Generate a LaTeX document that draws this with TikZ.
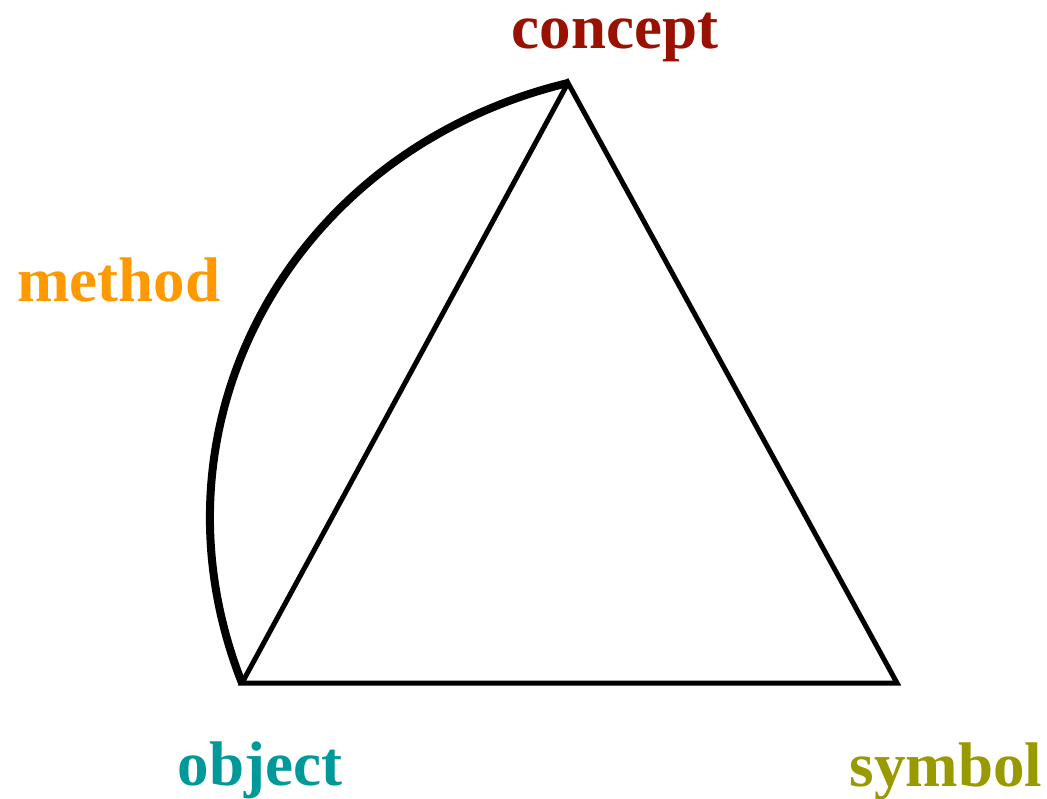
\documentclass[tikz,border=0pt]{standalone}
\usepackage{fontspec}
\setmainfont{Liberation Serif}
\usepackage{xcolor}
\usepackage{tikz}
\definecolor{conceptred}{RGB}{153,17,0}
\definecolor{methodorange}{RGB}{255,153,0}
\definecolor{objectteal}{RGB}{0,153,153}
\definecolor{symbololive}{RGB}{153,153,0}

\begin{document}
\begin{tikzpicture}[x=1pt, y=-1pt,
  lab/.style={anchor=base, inner sep=0pt, font=\fontsize{63}{63}\selectfont\bfseries},
  edge/.style={line width=5pt, line join=miter}]
  \useasboundingbox (0,0) rectangle (1047,799);
  % corners of the triangle
  \coordinate (c) at (568,83);
  \coordinate (o) at (242,683);
  \coordinate (s) at (897,683);
  \node[lab, text=conceptred] (concept) at (615,49) {concept};
  \node[lab, text=methodorange] (method) at (119,302) {method};
  \node[lab, text=objectteal] (object) at (260,785) {object};
  \node[lab, text=symbololive] (symbol) at (946,786) {symbol};
  \draw[edge] (c) -- (s) -- (o) -- cycle;
  \draw[line width=8pt] (o) .. controls (140,425) and (290,150) .. (c);
\end{tikzpicture}
\end{document}
